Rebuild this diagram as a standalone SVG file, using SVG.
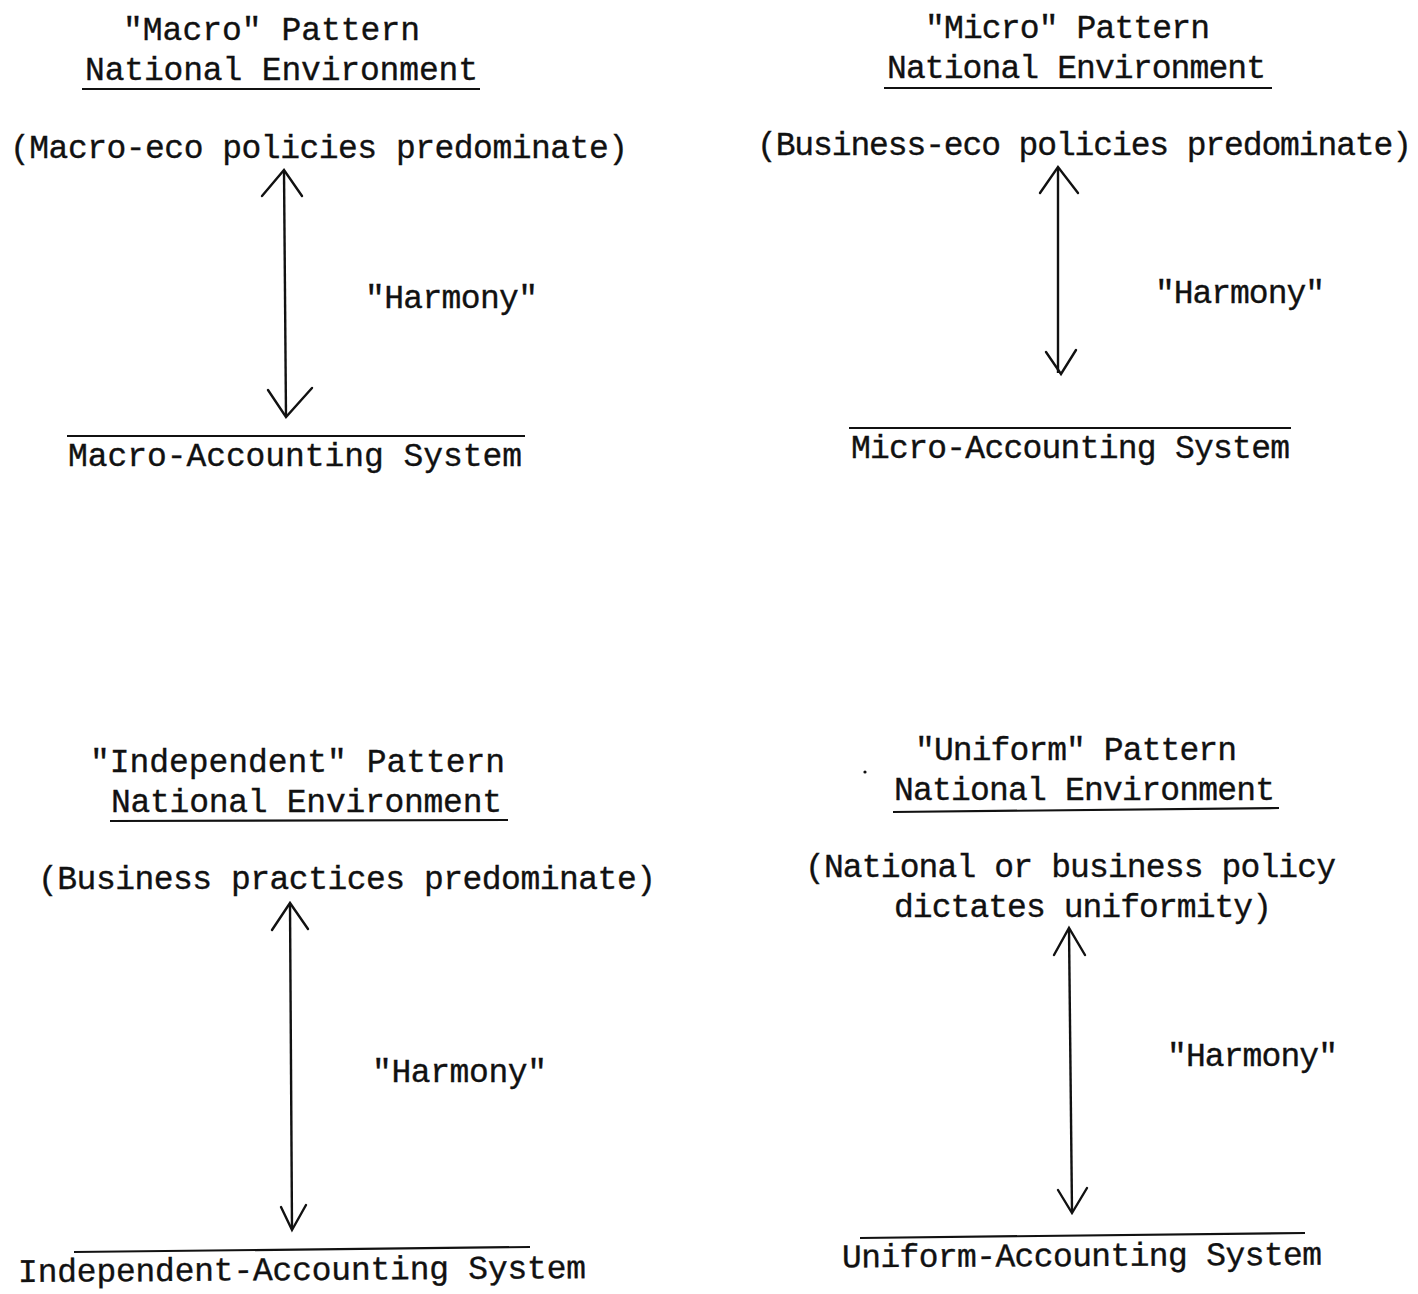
<svg xmlns="http://www.w3.org/2000/svg" width="1418" height="1294" viewBox="0 0 1418 1294">
<style>
text{font-family:"Liberation Mono","DejaVu Sans Mono",monospace;font-size:33px;fill:#111;stroke:#111;stroke-width:0.35}
.rule{stroke:#111;stroke-width:2.2;fill:none}
.shaft{stroke:#111;stroke-width:2.4;fill:none}
.head{stroke:#111;stroke-width:2.4;fill:none;stroke-linecap:round;stroke-linejoin:miter}
</style>
<rect width="1418" height="1294" fill="#fff"/>
<g id="macro-env">
<text x="123" y="40" textLength="297">"Macro" Pattern</text>
<text x="85" y="80" textLength="393">National Environment</text>
<line class="rule" x1="82" y1="89" x2="480" y2="89"/>
<text x="10" y="158" textLength="618">(Macro-eco policies predominate)</text>
</g>
<g id="macro-sys">
<line class="rule" x1="67" y1="436" x2="525" y2="436"/>
<text x="68" y="466" textLength="454">Macro-Accounting System</text>
</g>
<g id="micro-env">
<text x="925" y="38" textLength="285">"Micro" Pattern</text>
<text x="887" y="78" textLength="379">National Environment</text>
<line class="rule" x1="884" y1="88" x2="1272" y2="88"/>
<text x="757" y="155" textLength="655">(Business-eco policies predominate)</text>
</g>
<g id="micro-sys">
<line class="rule" x1="849" y1="428" x2="1291" y2="428"/>
<text x="851" y="458" textLength="439">Micro-Accounting System</text>
</g>
<g id="indep-env">
<text x="90" y="772" textLength="415">"Independent" Pattern</text>
<text x="111" y="812" textLength="391">National Environment</text>
<line class="rule" x1="110" y1="821" x2="508" y2="820"/>
<text x="38" y="889" textLength="618">(Business practices predominate)</text>
</g>
<g id="indep-sys">
<line class="rule" x1="74" y1="1252" x2="530" y2="1247"/>
<text x="18" y="1280" textLength="568" transform="rotate(-0.4 300 1270)">Independent-Accounting System</text>
</g>
<g id="uniform-env">
<text x="915" y="760" textLength="322">"Uniform" Pattern</text>
<circle cx="865" cy="772" r="1.6" fill="#111"/>
<text x="894" y="800" textLength="381">National Environment</text>
<line class="rule" x1="893" y1="812" x2="1279" y2="808"/>
<text x="805" y="877" textLength="531">(National or business policy</text>
<text x="894" y="917" textLength="378">dictates uniformity)</text>
</g>
<g id="uniform-sys">
<line class="rule" x1="860" y1="1238" x2="1305" y2="1233"/>
<text x="842" y="1266" textLength="480" transform="rotate(-0.3 1080 1255)">Uniform-Accounting System</text>
</g>
<g id="connectors">
<g id="arrow-macro">
<line class="shaft" x1="284" y1="171" x2="286" y2="416"/>
<polyline class="head" points="262,196 284,170 302,196"/>
<polyline class="head" points="268,390 286,417 312,388"/>
<text x="365" y="308" textLength="173">"Harmony"</text>
</g>
<g id="arrow-micro">
<line class="shaft" x1="1058" y1="168" x2="1058" y2="373"/>
<polyline class="head" points="1040,193 1058,167 1078,193"/>
<polyline class="head" points="1046,352 1061,374 1076,350"/>
<text x="1155" y="303" textLength="170">"Harmony"</text>
</g>
<g id="arrow-indep">
<line class="shaft" x1="290" y1="904" x2="292" y2="1229"/>
<polyline class="head" points="272,930 290,903 308,929"/>
<polyline class="head" points="281,1207 292,1230 306,1205"/>
<text x="372" y="1082" textLength="175">"Harmony"</text>
</g>
<g id="arrow-uniform">
<line class="shaft" x1="1069" y1="929" x2="1072" y2="1212"/>
<polyline class="head" points="1054,955 1069,928 1085,955"/>
<polyline class="head" points="1058,1190 1072,1213 1087,1188"/>
<text x="1167" y="1066" textLength="171">"Harmony"</text>
</g>
</g>
</svg>
